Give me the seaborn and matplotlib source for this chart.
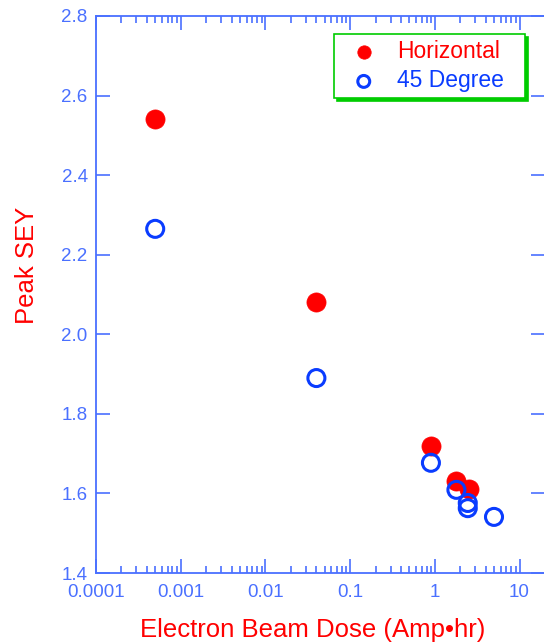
import seaborn as sns
import matplotlib.pyplot as plt
import matplotlib.ticker as mticker

# Peak SEY vs electron beam dose
dose_horizontal = [5e-4, 0.04, 0.9, 1.8, 2.5]
sey_horizontal = [2.54, 2.08, 1.72, 1.63, 1.61]

dose_45 = [5e-4, 0.04, 0.9, 1.8, 2.45, 2.45, 5.0]
sey_45 = [2.265, 1.89, 1.677, 1.609, 1.576, 1.563, 1.541]

y_ticks = [1.4, 1.6, 1.8, 2.0, 2.2, 2.4, 2.6, 2.8]

red = '#ff0000'
blue = '#0a3cff'
axis_blue = '#4a70ff'

sns.set_style("white")
plt.rcParams['font.family'] = ['Liberation Sans', 'DejaVu Sans']

fig = plt.figure(figsize=(5.44, 6.44), dpi=100)
ax = fig.add_axes([96 / 544, 1 - 573 / 644, (545 - 96) / 544, (573 - 16) / 644])

sns.scatterplot(x=dose_horizontal, y=sey_horizontal, ax=ax, color=red, s=190,
                marker='o', edgecolor=red, linewidth=0.5, label='Horizontal', zorder=3)
sns.scatterplot(x=dose_45, y=sey_45, ax=ax, s=150, marker='o', facecolors='none',
                edgecolor=blue, linewidth=2.2, label='45 Degree', zorder=4)

ax.set_xscale('log')
ax.set_xlim(1e-4, 20)
ax.set_ylim(1.4, 2.8)
ax.set_yticks(y_ticks)
ax.yaxis.set_major_formatter(mticker.FormatStrFormatter('%.1f'))
ax.xaxis.set_major_locator(mticker.FixedLocator([1e-4, 1e-3, 1e-2, 1e-1, 1, 10]))
ax.xaxis.set_major_formatter(mticker.FixedFormatter(['0.0001', '0.001', '0.01', '0.1', '1', '10']))
ax.xaxis.set_minor_locator(mticker.LogLocator(base=10, subs=range(2, 10), numticks=20))
ax.xaxis.set_minor_formatter(mticker.NullFormatter())
ax.yaxis.set_minor_locator(mticker.NullLocator())

for s in ax.spines.values():
    s.set_color(axis_blue)
    s.set_linewidth(1.3)

ax.tick_params(which='both', direction='in', top=True, right=True, bottom=True, left=True,
               colors=axis_blue, labelcolor=axis_blue, labelsize=13.5)
ax.tick_params(axis='x', pad=8)
ax.tick_params(axis='y', pad=6)
ax.tick_params(which='major', length=10, width=1.2)
ax.tick_params(which='minor', length=5, width=1.2)

ax.set_xlabel('Electron Beam Dose (Amp\u2022hr)', color=red, fontsize=18.5, va='top')
ax.xaxis.set_label_coords(0.483, -0.08)
ax.set_ylabel('Peak SEY', color=red, fontsize=18.5)
ax.yaxis.set_label_coords(-0.128, 0.553)

leg = ax.legend(loc='upper left', bbox_to_anchor=(0.530, 0.857, 0.425, 0.111),
                mode='expand', borderaxespad=0, fontsize=16.5, frameon=True,
                fancybox=False, markerscale=0.7, borderpad=0.25, labelspacing=0.3,
                handlelength=2.1, handletextpad=0.4,
                shadow={'color': '#00cc00', 'alpha': 1})
leg.get_frame().set_edgecolor('#00cc00')
leg.get_frame().set_linewidth(1.2)
leg.get_frame().set_facecolor('white')
leg.get_frame().set_alpha(1)
for txt, c in zip(leg.get_texts(), [red, blue]):
    txt.set_color(c)

fig.savefig('out.png', dpi=100)
